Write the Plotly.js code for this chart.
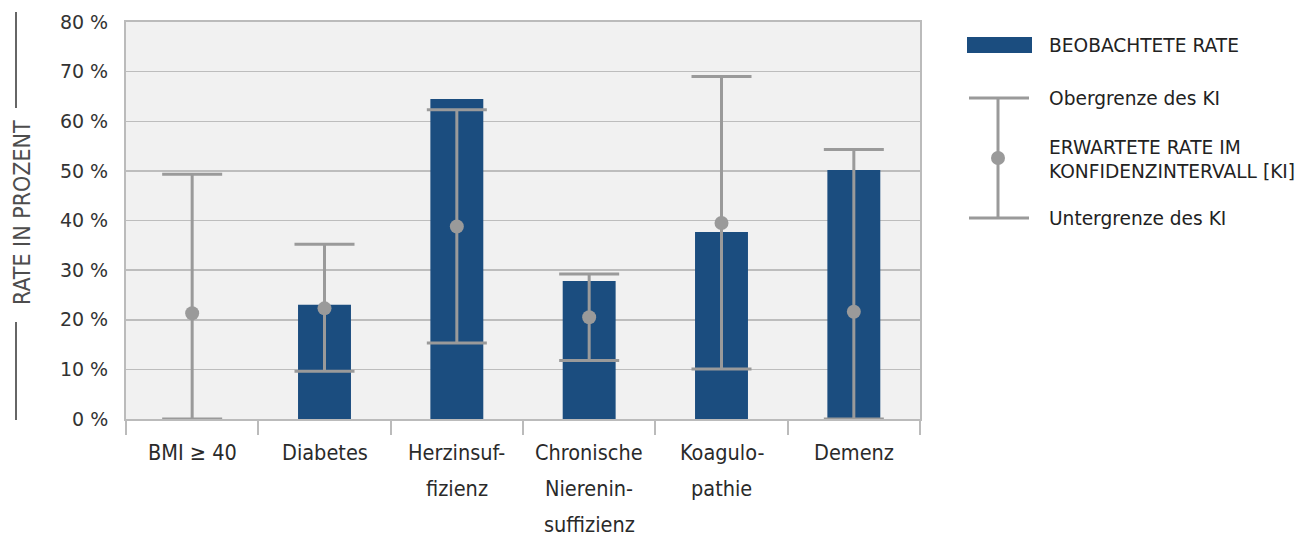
<!DOCTYPE html>
<html>
<head>
<meta charset="utf-8">
<script src="https://cdn.plot.ly/plotly-3.0.1.min.js"></script>
<style>html,body{margin:0;padding:0;background:#fff;}#chart{width:1299px;height:537px;}</style>
</head>
<body>
<div id="chart"></div>
<script>
// ---- data ----
const categories = ["BMI ≥ 40", "Diabetes", "Herzinsuffizienz", "Chronische Niereninsuffizienz", "Koagulopathie", "Demenz"];
const labelLines = [["BMI ≥ 40"], ["Diabetes"], ["Herzinsuf-", "fizienz"], ["Chronische", "Nierenin-", "suffizienz"], ["Koagulo-", "pathie"], ["Demenz"]];
const observedRate = [0, 23.0, 64.5, 27.8, 37.7, 50.2];
const expectedRate = [21.3, 22.3, 38.8, 20.5, 39.5, 21.6];
const upperCI = [49.3, 35.2, 62.3, 29.2, 69.0, 54.3];
const lowerCI = [0, 9.6, 15.3, 11.8, 10.1, 0];
const yTickVals = [0, 10, 20, 30, 40, 50, 60, 70, 80];
const yTickText = ["0 %", "10 %", "20 %", "30 %", "40 %", "50 %", "60 %", "70 %", "80 %"];
const legendLabels = ["BEOBACHTETE RATE", "Obergrenze des KI", "ERWARTETE RATE IM<br>KONFIDENZINTERVALL [KI]", "Untergrenze des KI"];
const yTitle = "RATE IN PROZENT";

// ---- layout helpers ----
const W = 1299, H = 537;
const M = {l: 126, r: 379, t: 22, b: 118};
const pw = W - M.l - M.r, ph = H - M.t - M.b;
const px = x => (x - M.l) / pw;
const py = y => (H - M.b - y) / ph;

const barColor = "#1b4d7f";
const ciColor = "#9a9a9a";
const condFont = "DejaVu Sans Condensed, DejaVu Sans, sans-serif";
const font = "DejaVu Sans, sans-serif";

const traces = [
  {
    type: "bar", x: categories, y: observedRate, width: 0.4,
    marker: {color: barColor}, hoverinfo: "skip", showlegend: false
  },
  {
    type: "scatter", mode: "markers", x: categories, y: expectedRate,
    marker: {color: ciColor, size: 14},
    error_y: {
      type: "data", symmetric: false,
      array: upperCI.map((u, i) => u - expectedRate[i]),
      arrayminus: lowerCI.map((l, i) => expectedRate[i] - l),
      color: ciColor, thickness: 3, width: 30
    },
    showlegend: false, hoverinfo: "skip"
  }
];

const annotations = [];
labelLines.forEach((lines, i) => {
  lines.forEach((t, j) => {
    annotations.push({
      x: categories[i], xref: "x", y: 0, yref: "paper",
      text: t, showarrow: false, xanchor: "center", yanchor: "middle",
      yshift: -(33 + 36 * j), borderpad: 0,
      font: {family: condFont, size: 21.5, color: "#2a2a2a"}
    });
  });
});
// y title
annotations.push({
  x: px(22), xref: "paper", y: py(213), yref: "paper", text: yTitle,
  textangle: -90, showarrow: false, xanchor: "center", yanchor: "middle",
  font: {family: condFont, size: 23, color: "#4d4d4d"}
});
// legend labels
const legY = [45, 98, 159, 218];
legendLabels.forEach((t, i) => {
  annotations.push({
    x: px(1047), xref: "paper", y: py(legY[i]), yref: "paper", text: t,
    showarrow: false, xanchor: "left", yanchor: "middle", align: "left",
    font: {family: font, size: 18.6, color: "#222"}
  });
});

const shapes = [
  // y title lines
  {type: "line", xref: "paper", yref: "paper", x0: px(16), x1: px(16), y0: py(12), y1: py(108), line: {color: "#666", width: 2}},
  {type: "line", xref: "paper", yref: "paper", x0: px(16), x1: px(16), y0: py(322), y1: py(420), line: {color: "#666", width: 2}},
  // legend rect
  {type: "rect", xref: "paper", yref: "paper", x0: px(967), x1: px(1032), y0: py(37), y1: py(53), fillcolor: barColor, line: {width: 0}},
  // legend error symbol
  {type: "line", xref: "paper", yref: "paper", x0: px(998), x1: px(998), y0: py(98), y1: py(218), line: {color: ciColor, width: 3}},
  {type: "line", xref: "paper", yref: "paper", x0: px(969), x1: px(1029), y0: py(98), y1: py(98), line: {color: ciColor, width: 3}},
  {type: "line", xref: "paper", yref: "paper", x0: px(969), x1: px(1029), y0: py(218), y1: py(218), line: {color: ciColor, width: 3}},
  {type: "circle", xref: "paper", yref: "paper", x0: px(991), x1: px(1005), y0: py(151), y1: py(165), fillcolor: ciColor, line: {width: 0}}
];

const layout = {
  width: W, height: H,
  margin: M,
  paper_bgcolor: "#fff", plot_bgcolor: "#f1f1f1",
  showlegend: false,
  xaxis: {
    type: "category", showticklabels: false,
    ticks: "outside", tickson: "boundaries", ticklen: 14, tickwidth: 2, tickcolor: "#bbb",
    showgrid: false, showline: true, mirror: true, linecolor: "#bbb", linewidth: 2,
    range: [-0.5, 5.5], fixedrange: true
  },
  yaxis: {
    range: [0, 80], tickvals: yTickVals, ticktext: yTickText,
    showgrid: true, gridcolor: "#bdbdbd", gridwidth: 1.5, zeroline: false,
    showline: true, mirror: true, linecolor: "#bbb", linewidth: 2,
    ticks: "", ticklabelstandoff: 12,
    tickfont: {family: font, size: 19, color: "#333"}, fixedrange: true
  },
  annotations: annotations,
  shapes: shapes
};

Plotly.newPlot("chart", traces, layout, {displayModeBar: false, staticPlot: true});
</script>
</body>
</html>
